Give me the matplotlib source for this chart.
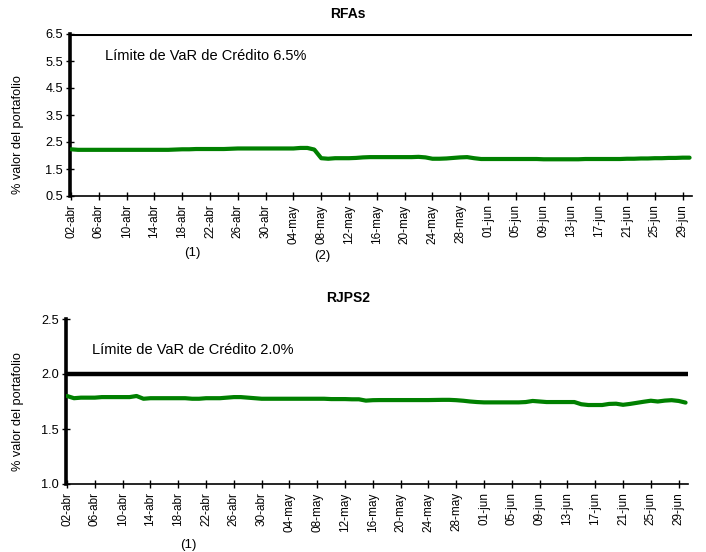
import matplotlib
matplotlib.use("Agg")
import matplotlib.pyplot as plt
import matplotlib.transforms as mtransforms
import pandas as pd

plt.rcParams['font.family'] = ['Liberation Sans', 'DejaVu Sans']

# ---- data ----
dates = pd.date_range("2007-04-02", "2007-06-30", freq="D")
month_es = {4: "abr", 5: "may", 6: "jun"}
date_labels = [f"{d.day:02d}-{month_es[d.month]}" for d in dates]

rfas = [2.23, 2.21, 2.21, 2.21, 2.21, 2.21, 2.21, 2.21, 2.21, 2.21,
        2.21, 2.21, 2.21, 2.21, 2.21, 2.22, 2.23, 2.23, 2.24, 2.24,
        2.24, 2.24, 2.24, 2.25, 2.26, 2.26, 2.26, 2.26, 2.26, 2.26,
        2.26, 2.26, 2.26, 2.28, 2.28, 2.22, 1.90, 1.88, 1.90, 1.90,
        1.90, 1.91, 1.93, 1.94, 1.94, 1.94, 1.94, 1.94, 1.94, 1.94,
        1.95, 1.93, 1.88, 1.88, 1.89, 1.91, 1.93, 1.94, 1.90, 1.87,
        1.87, 1.87, 1.87, 1.87, 1.87, 1.87, 1.87, 1.87, 1.86, 1.86,
        1.86, 1.86, 1.86, 1.86, 1.87, 1.87, 1.87, 1.87, 1.87, 1.87,
        1.88, 1.88, 1.89, 1.89, 1.90, 1.90, 1.91, 1.91, 1.92, 1.92]

rjps2 = [1.80, 1.78, 1.785, 1.785, 1.785, 1.79, 1.79, 1.79, 1.79, 1.79,
         1.80, 1.775, 1.78, 1.78, 1.78, 1.78, 1.78, 1.78, 1.775, 1.775,
         1.78, 1.78, 1.78, 1.785, 1.79, 1.79, 1.785, 1.78, 1.775, 1.775,
         1.775, 1.775, 1.775, 1.775, 1.775, 1.775, 1.775, 1.775, 1.772, 1.772,
         1.772, 1.77, 1.77, 1.758, 1.762, 1.763, 1.763, 1.763, 1.763, 1.763,
         1.763, 1.763, 1.763, 1.764, 1.765, 1.765, 1.762, 1.757, 1.75, 1.745,
         1.742, 1.742, 1.742, 1.742, 1.742, 1.742, 1.745, 1.755, 1.75, 1.745,
         1.745, 1.745, 1.745, 1.745, 1.725, 1.718, 1.718, 1.718, 1.728, 1.73,
         1.72, 1.728, 1.738, 1.748, 1.757, 1.75, 1.758, 1.762, 1.755, 1.74]

limit_rfas = 6.5
limit_rjps2 = 2.0
tick_step = 4

panels = [
    dict(title="RFAs", values=rfas, limit=limit_rfas,
         label="Límite de VaR de Crédito 6.5%", ylim=(0.5, 6.5),
         yticks=[0.5, 1.5, 2.5, 3.5, 4.5, 5.5, 6.5],
         notes=[("(1)", 17.5), ("(2)", 36.2)]),
    dict(title="RJPS2", values=rjps2, limit=limit_rjps2,
         label="Límite de VaR de Crédito 2.0%", ylim=(1.0, 2.5),
         yticks=[1.0, 1.5, 2.0, 2.5],
         notes=[("(1)", 17.5)]),
]

W, H = 706, 552
fig = plt.figure(figsize=(W / 100, H / 100), dpi=100)

rects = [(70, 692, 34, 196), (66, 688, 319, 484)]
title_y = [14, 298]
ylabel_y = [135, 412]
text_pos = [(105, 56), (92, 350)]
note_y = [[253, 256], [545]]

x = list(range(len(dates)))
for i, p in enumerate(panels):
    l, r, t, b = rects[i]
    ax = fig.add_axes([l / W, 1 - b / H, (r - l) / W, (b - t) / H])
    ax.plot(x, p["values"], color="#008000", lw=3.0, solid_capstyle="round",
            solid_joinstyle="round", zorder=3)
    ax.axhline(p["limit"], color="black", lw=2.2 if i == 0 else 3.2, zorder=2)
    ax.set_xlim(-0.15, len(dates) - 1 + 0.35)
    ax.set_ylim(*p["ylim"])
    ax.set_yticks(p["yticks"])
    ax.set_yticklabels([f"{v:.1f}" for v in p["yticks"]], fontsize=9.2)
    ticks = x[::tick_step]
    ax.set_xticks(ticks)
    ax.set_xticklabels([date_labels[k] for k in ticks], rotation=90, fontsize=8.5)
    for s in ("top", "right"):
        ax.spines[s].set_visible(False)
    ax.spines["left"].set_linewidth(2.6)
    ax.spines["bottom"].set_linewidth(1.2)
    ax.tick_params(axis="both", direction="inout", length=6, width=1.0,
                   colors="black")
    ax.tick_params(axis="x", pad=3)
    ax.tick_params(axis="y", pad=2)
    tx, ty = text_pos[i]
    ax.text((tx - l) / (r - l), (b - ty) / (b - t), p["label"],
            transform=ax.transAxes, fontsize=10.5, va="center", ha="left")
    trans = mtransforms.blended_transform_factory(ax.transData, ax.transAxes)
    for (txt, xd), ny in zip(p["notes"], note_y[i]):
        ax.text(xd, (b - ny) / (b - t), txt, transform=trans, fontsize=9.5,
                ha="center", va="center")
    fig.text(348 / W, 1 - title_y[i] / H, p["title"], fontsize=10,
             fontweight="bold", ha="center", va="center")
    fig.text(18 / W, 1 - ylabel_y[i] / H, "% valor del portafolio",
             fontsize=9.2, rotation=90, ha="center", va="center")

fig.savefig("out.png", dpi=100)
